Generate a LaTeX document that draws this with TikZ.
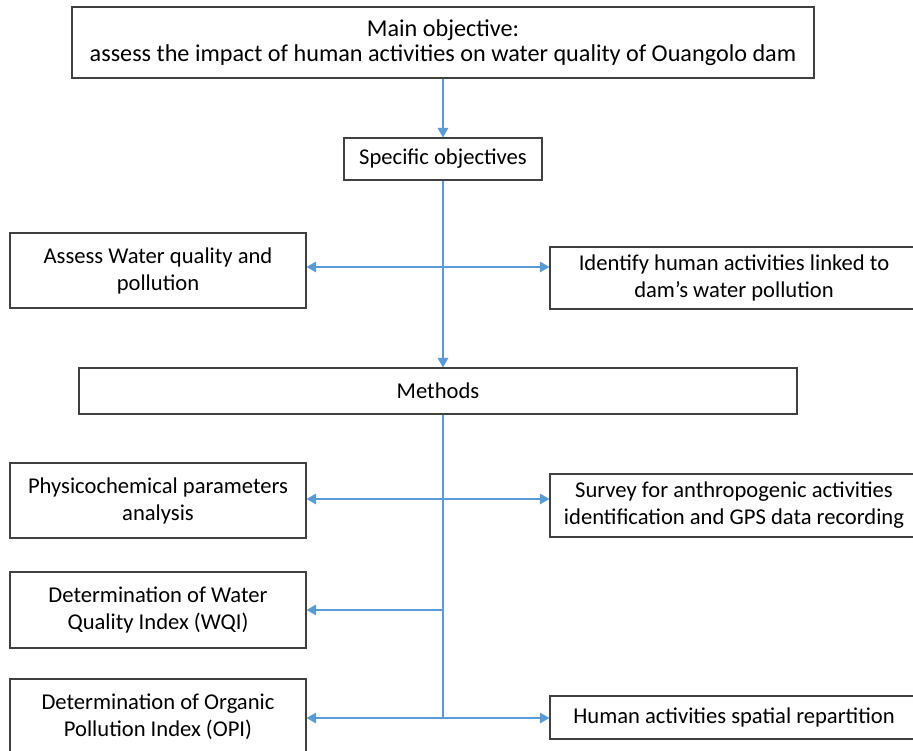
\documentclass[tikz,border=0pt]{standalone}
\usepackage{fontspec}
\setmainfont{Carlito}
\usetikzlibrary{arrows,shadows}
\definecolor{linkblue}{RGB}{91,155,213}
\tikzstyle{box}=[rectangle,
                 draw=black!75,
                 line width=1.2pt,
                 fill=white,
                 drop shadow={shadow xshift=1pt, shadow yshift=-1.2pt, opacity=0.45},
                 inner sep=0pt,
                 text badly centered,
                 font=\fontsize{22.6}{27}\selectfont]
\tikzstyle{left}=[box, minimum width=296, text width=294]
\tikzstyle{right}=[box, minimum width=368, text width=366]
\tikzstyle{link}=[draw=linkblue, line width=1.6pt]
\tikzstyle{strong}=[-triangle 60]

\begin{document}
\begin{tikzpicture}[x=1pt,y=-1pt]
      \useasboundingbox (0,0) rectangle (913,751);
      \clip (0,0) rectangle (913,751);

      \node[box, minimum width=742, minimum height=71, text width=736,
            font=\fontsize{24.2}{25}\selectfont] (main) at (443,42.5)
            {Main objective:\\assess the impact of human activities on water quality of Ouangolo dam};
      \node[box, minimum width=198, minimum height=42, text width=196] (specific) at (443,159) {Specific objectives};

      \node[left, minimum height=75]  (water)    at (158,270.5) {Assess Water quality and\\pollution};
      \node[right, minimum height=62] (activity) at (734,278)   {Identify human activities linked to\\dam's water pollution};

      \node[box, minimum width=718, minimum height=46, text width=700] (methods) at (438,391) {Methods};

      \node[left, minimum height=75]  (physchem) at (158,500.5) {Physicochemical parameters\\analysis};
      \node[right, minimum height=63] (survey)   at (734,505.5) {Survey for anthropogenic activities\\identification and GPS data recording};
      \node[left, minimum height=76]  (wqi)      at (158,610)   {Determination of Water\\Quality Index (WQI)};
      \node[left, minimum height=76]  (opi)      at (158,717)   {Determination of Organic\\Pollution Index (OPI)};
      \node[right, minimum height=43] (spatial)  at (734,717.5) {Human activities spatial repartition};

      % junctions on the spine
      \coordinate (obj) at (443,267);
      \coordinate (m1)  at (443,499);
      \coordinate (m2)  at (443,610);
      \coordinate (m3)  at (443,718);

      \draw[link,strong] (main) -- (specific);
      \draw[link,strong] (specific.south) -- (specific.south |- methods.north);
      \draw[link,strong] (obj) -- (obj -| water.east);
      \draw[link,strong] (obj) -- (obj -| activity.west);

      \draw[link] (methods.south -| m1) -- (m3);
      \draw[link,strong] (m1) -- (m1 -| physchem.east);
      \draw[link,strong] (m1) -- (m1 -| survey.west);
      \draw[link,strong] (m2) -- (m2 -| wqi.east);
      \draw[link,strong] (m3) -- (m3 -| opi.east);
      \draw[link,strong] (m3) -- (m3 -| spatial.west);
    \end{tikzpicture}
\end{document}
